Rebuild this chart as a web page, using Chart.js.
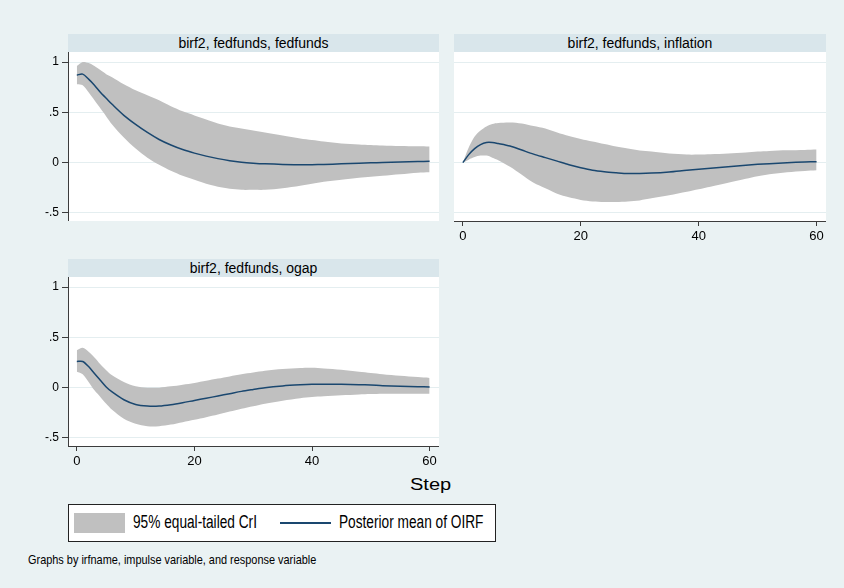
<!DOCTYPE html>
<html lang="en">
<head>
<meta charset="UTF-8">
<title>birf2 OIRF</title>
<script src="https://cdn.jsdelivr.net/npm/chart.js"></script>
<style>
  body { margin: 0; background: #eaf2f3; font-family: "Liberation Sans", Arial, sans-serif; }
  #page { position: relative; width: 844px; height: 588px; overflow: hidden; }
  canvas { position: absolute; }
  .strip { position: absolute; height: 18px; background: #d9e6eb; color: #000;
           font-size: 14px; line-height: 18px; text-align: center; }
  .txt { position: absolute; white-space: nowrap; transform-origin: left center; color: #000; }
  #legend { position: absolute; left: 68px; top: 504px; width: 426px; height: 36px;
            background: #fff; border: 1px solid #222; }
</style>
</head>
<body>
<div id="page">
  <div class="strip" style="left:68px; top:34px; width:371px;">birf2, fedfunds, fedfunds</div>
  <div class="strip" style="left:454px; top:34px; width:372px;">birf2, fedfunds, inflation</div>
  <div class="strip" style="left:68px; top:259px; width:371px;">birf2, fedfunds, ogap</div>

  <canvas id="c1" width="419" height="169" style="left:20px; top:52px;"></canvas>
  <canvas id="c2" width="372" height="198" style="left:454px; top:52px;"></canvas>
  <canvas id="c3" width="419" height="198" style="left:20px; top:277px;"></canvas>

  <div class="txt" style="left:410px; top:476px; font-size:16px; transform:scaleX(1.25);">Step</div>

  <div id="legend"></div>
  <div style="position:absolute; left:74px; top:513px; width:51px; height:20px; background:#c0c0c0;"></div>
  <div class="txt" style="left:133px; top:512px; font-size:18px; transform:scaleX(0.76);">95% equal-tailed CrI</div>
  <div style="position:absolute; left:280px; top:522px; width:51px; height:2px; background:#1a476f;"></div>
  <div class="txt" style="left:339px; top:512px; font-size:18px; transform:scaleX(0.76);">Posterior mean of OIRF</div>

  <div class="txt" style="left:28px; top:552px; font-size:13px; transform:scaleX(0.84);">Graphs by irfname, impulse variable, and response variable</div>
</div>

<script>
// horizon steps used for every panel
const steps = [0, 1, 2, 3, 4, 5, 6, 8, 10, 12, 14, 16, 18, 20, 22, 24, 26, 28, 30, 32, 35, 38, 40, 42, 45, 48, 50, 52, 55, 58, 60];

const xTicks = [0, 20, 40, 60];
const yTicks = [-0.5, 0, 0.5, 1];
const yTickLabels = ["-.5", "0", ".5", "1"];

// fedfunds -> fedfunds
const ffMean  = [0.87, 0.88, 0.83, 0.77, 0.70, 0.64, 0.58, 0.47, 0.38, 0.30, 0.23, 0.175, 0.13, 0.095, 0.065, 0.04, 0.02, 0.005, -0.005, -0.012, -0.018, -0.02, -0.02, -0.018, -0.012, -0.006, -0.002, 0.002, 0.007, 0.011, 0.013];
const ffUpper = [0.96, 1.0, 0.99, 0.96, 0.92, 0.88, 0.85, 0.78, 0.72, 0.67, 0.62, 0.56, 0.51, 0.47, 0.43, 0.39, 0.36, 0.34, 0.32, 0.30, 0.27, 0.24, 0.225, 0.21, 0.19, 0.18, 0.175, 0.17, 0.165, 0.162, 0.16];
const ffLower = [0.78, 0.77, 0.70, 0.62, 0.54, 0.46, 0.38, 0.25, 0.14, 0.05, -0.02, -0.08, -0.13, -0.17, -0.21, -0.24, -0.26, -0.27, -0.27, -0.27, -0.255, -0.23, -0.21, -0.19, -0.17, -0.15, -0.14, -0.13, -0.115, -0.10, -0.095];

// fedfunds -> inflation
const infMean  = [0, 0.08, 0.14, 0.18, 0.20, 0.20, 0.19, 0.165, 0.125, 0.085, 0.05, 0.015, -0.02, -0.05, -0.075, -0.09, -0.10, -0.108, -0.108, -0.104, -0.092, -0.075, -0.065, -0.055, -0.04, -0.025, -0.017, -0.01, 0.0, 0.007, 0.01];
const infUpper = [0, 0.15, 0.26, 0.32, 0.36, 0.385, 0.395, 0.40, 0.39, 0.365, 0.34, 0.30, 0.265, 0.235, 0.21, 0.185, 0.16, 0.14, 0.12, 0.11, 0.09, 0.08, 0.08, 0.083, 0.09, 0.10, 0.11, 0.117, 0.123, 0.127, 0.13];
const infLower = [0, 0.03, 0.055, 0.07, 0.07, 0.05, 0.025, -0.04, -0.12, -0.20, -0.255, -0.31, -0.345, -0.37, -0.385, -0.39, -0.39, -0.385, -0.375, -0.355, -0.325, -0.29, -0.265, -0.24, -0.20, -0.16, -0.135, -0.115, -0.095, -0.082, -0.076];

// fedfunds -> ogap
const gapMean  = [0.26, 0.26, 0.21, 0.14, 0.073, 0.007, -0.043, -0.12, -0.167, -0.183, -0.183, -0.17, -0.15, -0.127, -0.105, -0.083, -0.06, -0.037, -0.018, 0, 0.017, 0.028, 0.033, 0.034, 0.033, 0.03, 0.026, 0.02, 0.015, 0.01, 0.007];
const gapUpper = [0.373, 0.397, 0.357, 0.30, 0.233, 0.173, 0.123, 0.057, 0.013, 0, 0, 0.013, 0.03, 0.047, 0.068, 0.09, 0.112, 0.133, 0.15, 0.167, 0.185, 0.195, 0.197, 0.19, 0.177, 0.157, 0.145, 0.133, 0.118, 0.105, 0.097];
const gapLower = [0.157, 0.133, 0.057, -0.027, -0.093, -0.16, -0.22, -0.31, -0.36, -0.383, -0.383, -0.367, -0.343, -0.32, -0.293, -0.267, -0.238, -0.21, -0.185, -0.16, -0.13, -0.105, -0.093, -0.085, -0.075, -0.067, -0.063, -0.06, -0.06, -0.06, -0.06];

const axisColor = "#3c3c3c";
const bandColor = "#c0c0c0";
const lineColor = "#1a476f";

function pts(vals) {
  return steps.map((s, i) => ({ x: s, y: vals[i] }));
}

function makePanel(id, upper, lower, mean, showX, showY) {
  const ctx = document.getElementById(id);
  return new Chart(ctx, {
    type: "line",
    data: {
      datasets: [
        { data: pts(upper), borderWidth: 0, borderColor: bandColor, pointRadius: 0, fill: false, tension: 0.3, order: 2 },
        { data: pts(lower), borderWidth: 0, borderColor: bandColor, pointRadius: 0, fill: "-1", backgroundColor: bandColor, tension: 0.3, order: 1 },
        { data: pts(mean), borderColor: lineColor, borderWidth: 1.5, pointRadius: 0, fill: false, tension: 0.3, order: 0 }
      ]
    },
    options: {
      responsive: false,
      animation: false,
      devicePixelRatio: 1,
      layout: { padding: 0 },
      plugins: { legend: { display: false }, tooltip: { enabled: false } },
      scales: {
        x: {
          type: "linear",
          min: -1.5,
          max: 61.6,
          display: showX,
          afterBuildTicks: (axis) => { axis.ticks = xTicks.map(v => ({ value: v })); },
          afterFit: (axis) => {
            axis.height = showX ? 29 : 0;
            axis.paddingLeft = 0;
            axis.paddingRight = 0;
          },
          ticks: { color: "#000", font: { family: "'Liberation Sans', Arial", size: 13 }, padding: 3, maxRotation: 0 },
          grid: { drawOnChartArea: false, tickLength: 5, tickColor: axisColor },
          border: { color: axisColor, width: 1 }
        },
        y: {
          min: -0.58,
          max: 1.1,
          afterBuildTicks: (axis) => { axis.ticks = yTicks.map(v => ({ value: v })); },
          afterFit: (axis) => {
            axis.width = showY ? 48 : 0;
            axis.paddingTop = 0;
            axis.paddingBottom = 0;
          },
          ticks: {
            display: showY,
            color: "#000",
            font: { family: "'Liberation Sans', Arial", size: 12 },
            padding: 3,
            callback: (v) => yTickLabels[yTicks.indexOf(v)]
          },
          grid: {
            color: "#e4eef0",
            lineWidth: 1,
            drawTicks: showY,
            tickLength: 6,
            tickColor: axisColor
          },
          border: { display: showY, color: axisColor, width: 1 }
        }
      }
    },
    plugins: [{
      id: "whiteArea",
      beforeDraw(chart) {
        const a = chart.chartArea;
        chart.ctx.save();
        chart.ctx.fillStyle = "#fff";
        chart.ctx.fillRect(a.left, a.top, a.right - a.left, a.bottom - a.top);
        chart.ctx.restore();
      }
    }]
  });
}

makePanel("c1", ffUpper, ffLower, ffMean, false, true);
makePanel("c2", infUpper, infLower, infMean, true, false);
makePanel("c3", gapUpper, gapLower, gapMean, true, true);
</script>
</body>
</html>
